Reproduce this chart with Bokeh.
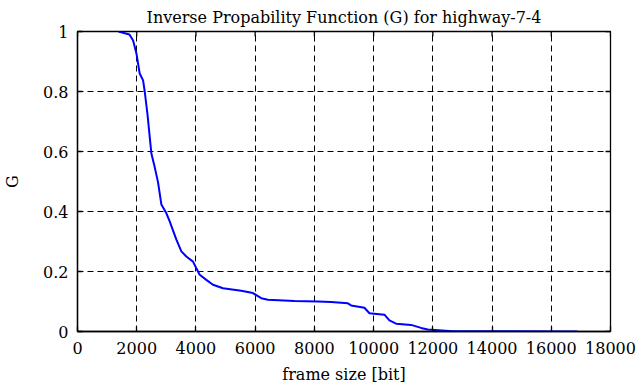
import math
from bokeh.plotting import figure
from bokeh.models import FixedTicker, Range1d, Title
from bokeh.embed import file_html
from bokeh.resources import INLINE

# data (frame size [bit] vs G)
frame_size = [1383, 1754, 1878, 1990, 2100, 2215, 2270, 2360, 2440, 2495, 2607, 2720,
              2833, 3002, 3114, 3339, 3508, 3676, 3901, 4013, 4126, 4351, 4575, 4913,
              5531, 5924, 6205, 6430, 7330, 8118, 8567, 9130, 9241, 9690, 9859, 10365,
              10534, 10759, 11265, 11602, 11827, 12670, 16887]
g_values = [1.0, 0.99, 0.97, 0.927, 0.86, 0.837, 0.80, 0.727, 0.648, 0.593, 0.548, 0.497,
            0.423, 0.394, 0.367, 0.306, 0.267, 0.25, 0.233, 0.211, 0.189, 0.172, 0.156, 0.144,
            0.136, 0.128, 0.111, 0.106, 0.102, 0.10, 0.098, 0.094, 0.087, 0.079, 0.061, 0.056,
            0.037, 0.026, 0.022, 0.012, 0.007, 0.001, 0.0]

x_ticks = [0, 2000, 4000, 6000, 8000, 10000, 12000, 14000, 16000, 18000]
y_ticks = [0, 0.2, 0.4, 0.6, 0.8, 1]
y_tick_labels = ["0", "0.2", "0.4", "0.6", "0.8", "1"]

title_text = "Inverse Propability Function (G) for highway-7-4"
x_label = "frame size [bit]"
y_label = "G"

FONT = "DejaVu Serif"
X_MIN, X_MAX = x_ticks[0], x_ticks[-1]
Y_MIN, Y_MAX = y_ticks[0], y_ticks[-1]

p = figure(width=639, height=387, output_backend="svg", toolbar_location=None,
           x_range=Range1d(X_MIN, X_MAX), y_range=Range1d(Y_MIN, Y_MAX),
           min_border_left=76, min_border_right=29, min_border_top=31, min_border_bottom=56)

p.title = Title(text=title_text, align="center", text_font=FONT, text_font_size="16px",
                text_font_style="normal", text_color="black", standoff=9)

p.outline_line_color = "black"
p.outline_line_width = 1.3
p.background_fill_color = "white"
p.border_fill_color = "white"

for ax in (p.xaxis[0], p.yaxis[0]):
    ax.major_label_text_font = FONT
    ax.major_label_text_font_size = "16px"
    ax.major_label_text_color = "black"
    ax.axis_label_text_font = FONT
    ax.axis_label_text_font_size = "16px"
    ax.axis_label_text_font_style = "normal"
    ax.axis_label_text_color = "black"
    ax.axis_line_color = "black"
    ax.axis_line_width = 1.3
    ax.major_tick_in = 5
    ax.major_tick_out = 0
    ax.minor_tick_line_color = None
    ax.major_tick_line_color = "black"
    ax.major_tick_line_width = 1.3

p.xaxis[0].ticker = FixedTicker(ticks=x_ticks)
p.yaxis[0].ticker = FixedTicker(ticks=y_ticks)
p.yaxis[0].major_label_overrides = {t: l for t, l in zip(y_ticks, y_tick_labels)}
p.xaxis[0].axis_label = x_label
p.yaxis[0].axis_label = y_label
p.xaxis[0].major_label_standoff = 10
p.xaxis[0].axis_label_standoff = 8
p.yaxis[0].major_label_standoff = 9
p.yaxis[0].axis_label_standoff = 18

for g, tk in ((p.xgrid[0], x_ticks), (p.ygrid[0], y_ticks)):
    g.ticker = FixedTicker(ticks=tk)
    g.grid_line_color = "black"
    g.grid_line_dash = "6 4"
    g.grid_line_width = 1
    g.grid_line_alpha = 1

# mirrored inward ticks on top and right (half of each dash is clipped by the frame)
p.scatter(x_ticks, [Y_MAX] * len(x_ticks), marker="dash", size=10, angle=math.pi / 2,
          line_color="black", line_width=1.3)
p.scatter([X_MAX] * len(y_ticks), y_ticks, marker="dash", size=10,
          line_color="black", line_width=1.3)

p.line(frame_size, g_values, line_color="#0000ff", line_width=2)

open("out.html", "w").write(file_html(p, INLINE))
